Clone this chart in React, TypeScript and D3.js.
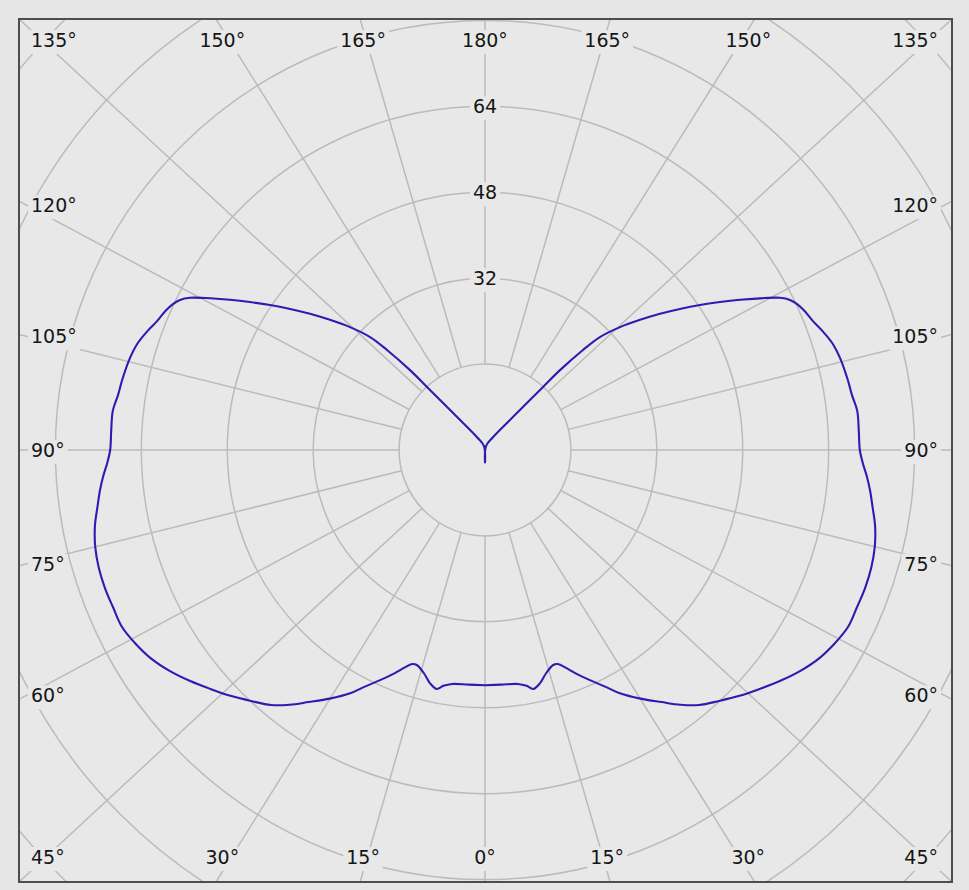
import React, { useEffect, useRef } from 'react';
import * as d3 from 'd3';

// Vertical angle gamma (deg, 0 = straight down) and luminous intensity (right half, mirrored on the left)
const gammaDeg = [0, 4, 8, 10, 11.4, 13.3, 15.3, 17.6, 18.8, 20.4, 22, 24.5, 27, 29, 32, 35, 37.5, 40, 43, 46, 49, 52, 55, 58, 61, 64, 67, 70, 73, 76, 79, 81.5, 84, 86, 88, 90, 93, 96, 98.5, 101, 104.5, 107, 109.5, 111.5, 113.5, 115, 116.2, 117.3, 118.5, 120.5, 122.2, 124, 125.9, 127.9, 130, 132.3, 134.5, 135.6, 136.8, 137.4, 139.7, 148, 165, 180];
const intensity = [43.8, 43.8, 44.0, 44.6, 45.4, 44.6, 43.1, 42.0, 42.1, 43.3, 44.8, 47.1, 49.5, 51.8, 54.6, 57.3, 59.8, 62.0, 63.9, 65.9, 67.8, 69.8, 71.7, 73.3, 74.4, 75.2, 75.2, 75.3, 75.2, 74.8, 74.0, 73.0, 72.1, 71.3, 70.4, 69.8, 69.7, 69.7, 69.1, 68.8, 68.3, 67.7, 66.6, 65.6, 64.9, 64.2, 63.3, 61.8, 59.3, 55.1, 51.7, 48.3, 44.8, 41.3, 37.7, 34.0, 30.0, 26.0, 20.4, 15.9, 8.1, 2.8, 0.8, -2.3];

const ringValues = [16, 32, 48, 64, 80, 96, 112];
const ringLabelValues = [32, 48, 64];
const spokeGammas = [0, 15, 30, 45, 60, 75, 90, 105, 120, 135, 150, 165, 180];

const WIDTH = 969;
const HEIGHT = 890;

export default function App() {
  const ref = useRef<SVGSVGElement>(null);

  useEffect(() => {
    const svg = d3.select(ref.current);
    svg.selectAll('*').remove();

    const frame = { x0: 19, y0: 19, x1: 952, y1: 882 };
    const cx = 485;
    const cy = 450;
    const r = d3.scaleLinear().domain([0, 80]).range([0, 429.6]);

    const bg = '#e6e6e6';
    const gridColor = '#bbbbbb';
    const font = '"DejaVu Sans", Verdana, sans-serif';
    const fontSize = 19;

    svg.append('rect').attr('width', WIDTH).attr('height', HEIGHT).attr('fill', bg);
    svg.append('rect')
      .attr('x', frame.x0).attr('y', frame.y0)
      .attr('width', frame.x1 - frame.x0).attr('height', frame.y1 - frame.y0)
      .attr('fill', '#e8e8e8');

    const defs = svg.append('defs');
    defs.append('clipPath').attr('id', 'frameClip')
      .append('rect')
      .attr('x', frame.x0).attr('y', frame.y0)
      .attr('width', frame.x1 - frame.x0).attr('height', frame.y1 - frame.y0);

    const grid = svg.append('g').attr('clip-path', 'url(#frameClip)');

    grid.selectAll('circle.ring')
      .data(ringValues)
      .join('circle')
      .attr('class', 'ring')
      .attr('cx', cx).attr('cy', cy)
      .attr('r', d => r(d))
      .attr('fill', 'none')
      .attr('stroke', gridColor)
      .attr('stroke-width', 1.5);

    type Spoke = { gamma: number; side: number; x1: number; y1: number; x2: number; y2: number; lx: number; ly: number; anchor: string };
    const spokes: Spoke[] = [];
    spokeGammas.forEach(g => {
      const sides = g === 0 || g === 180 ? [1] : [1, -1];
      sides.forEach(side => {
        const rad = (g * Math.PI) / 180;
        const s = side * Math.sin(rad);
        const c = Math.cos(rad);
        const m = Math.max(Math.abs(s), Math.abs(c));
        const u = s / m;
        const v = c / m;
        const hx = u >= 0 ? frame.x1 - cx : cx - frame.x0;
        const hy = v >= 0 ? frame.y1 - cy : cy - frame.y0;
        const ex = cx + u * hx;
        const ey = cy + v * hy;
        const len = Math.hypot(ex - cx, ey - cy);
        const r0 = r(16);
        const sx = cx + ((ex - cx) / len) * r0;
        const sy = cy + ((ey - cy) / len) * r0;
        let lx: number, ly: number, anchor: string;
        const eps = 1e-6;
        if (Math.abs(Math.abs(s) - Math.abs(c)) < eps) {
          ly = c > 0 ? 857 : 40;
          lx = s > 0 ? 938 : 31;
          anchor = s > 0 ? 'end' : 'start';
        } else if (Math.abs(s) > Math.abs(c)) {
          ly = cy + v * (hy - 7);
          lx = s > 0 ? 938 : 31;
          anchor = s > 0 ? 'end' : 'start';
        } else {
          ly = c > 0 ? 857 : 40;
          lx = cx + u * (hx - 11);
          anchor = 'middle';
        }
        spokes.push({ gamma: g, side, x1: sx, y1: sy, x2: ex, y2: ey, lx, ly, anchor });
      });
    });

    grid.selectAll('line.spoke')
      .data(spokes)
      .join('line')
      .attr('class', 'spoke')
      .attr('x1', d => d.x1).attr('y1', d => d.y1)
      .attr('x2', d => d.x2).attr('y2', d => d.y2)
      .attr('stroke', gridColor)
      .attr('stroke-width', 1.5);

    // labels with background boxes
    const labelG = svg.append('g');
    const addLabel = (text: string, x: number, y: number, anchor: string) => {
      const g = labelG.append('g');
      const rect = g.append('rect').attr('fill', '#e8e8e8');
      const t = g.append('text')
        .attr('x', x).attr('y', y)
        .attr('text-anchor', anchor)
        .attr('dominant-baseline', 'central')
        .attr('font-family', font)
        .attr('font-size', fontSize)
        .attr('fill', '#151515')
        .text(text);
      const node = t.node() as SVGTextElement;
      const bb = node.getBBox();
      rect.attr('x', bb.x - 3).attr('y', bb.y + 1).attr('width', bb.width + 6).attr('height', bb.height + 2);
    };

    spokes.forEach(d => addLabel(`${d.gamma}°`, d.lx, d.ly, d.anchor));
    ringLabelValues.forEach(v => addLabel(`${v}`, cx, cy - r(v), 'middle'));

    // frame border
    svg.append('rect')
      .attr('x', frame.x0).attr('y', frame.y0)
      .attr('width', frame.x1 - frame.x0).attr('height', frame.y1 - frame.y0)
      .attr('fill', 'none')
      .attr('stroke', '#4d4d4d')
      .attr('stroke-width', 2);

    // curve: right half (angle = PI - gamma), then left half mirrored (angle = PI + gamma)
    const right = gammaDeg.map((g, i) => [Math.PI - (g * Math.PI) / 180, intensity[i]] as [number, number]);
    const left = gammaDeg.map((g, i) => [Math.PI + (g * Math.PI) / 180, intensity[i]] as [number, number]).reverse();
    const pts = right.concat(left);

    const line = d3.lineRadial<[number, number]>()
      .angle(d => d[0])
      .radius(d => r(d[1]))
      .curve(d3.curveCatmullRom.alpha(0.5));

    svg.append('path')
      .attr('transform', `translate(${cx},${cy})`)
      .attr('d', line(pts) as string)
      .attr('fill', 'none')
      .attr('stroke', '#2c1db0')
      .attr('stroke-width', 2.1)
      .attr('stroke-linejoin', 'round');
  }, []);

  return (
    <svg
      ref={ref}
      width={WIDTH}
      height={HEIGHT}
      style={{ position: 'absolute', left: 0, top: 0, display: 'block' }}
    />
  );
}
